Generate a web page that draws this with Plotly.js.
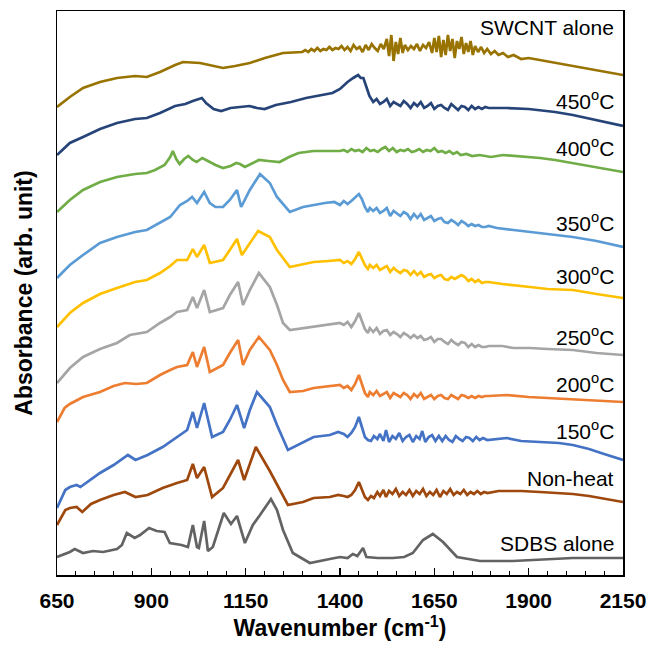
<!DOCTYPE html>
<html><head><meta charset="utf-8">
<script src="https://cdn.plot.ly/plotly-3.0.1.min.js"></script>
<style>html,body{margin:0;padding:0;background:#fff}#chart{width:651px;height:654px}</style>
</head><body><div id="chart"></div>
<script>
// [wavenumber (cm-1), absorbance (arb. unit, stacked offset)]
const swcntAlone = [[650,468],[684,478],[719,487],[764,493],[809,497],[857,499],[888,498],[923,503],[963,510],[984,513],[1029,512],[1061,509],[1090,507],[1122,509],[1161,512],[1201,517],[1249,522],[1300,523],[1308,525],[1316,523],[1324,526],[1332,524],[1340,527],[1348,524],[1356,526],[1364,525],[1372,528],[1380,525],[1388,527],[1396,526],[1404,529],[1412,525],[1420,528],[1428,524],[1436,530],[1444,526],[1452,528],[1460,523],[1468,530],[1476,525],[1484,531],[1492,527],[1500,524],[1508,531],[1516,526],[1524,536],[1530,519],[1536,540],[1542,514],[1548,533],[1554,521],[1560,537],[1566,522],[1572,530],[1580,525],[1588,529],[1596,526],[1604,531],[1612,524],[1620,530],[1628,527],[1636,533],[1644,522],[1650,537],[1656,523],[1662,539],[1668,518],[1674,535],[1680,520],[1686,540],[1692,524],[1698,536],[1704,517],[1710,534],[1716,526],[1722,538],[1728,521],[1734,532],[1740,523],[1746,534],[1752,520],[1758,529],[1766,523],[1774,528],[1782,522],[1790,526],[1800,521],[1810,524],[1820,520],[1832,522],[1845,518],[1860,520],[1880,516],[1900,517],[1930,515],[1970,512],[2017,509],[2080,505],[2150,500]];

const heat450 = [[650,420],[684,432],[719,438],[764,446],[809,452],[857,456],[888,457],[923,462],[963,469],[990,471],[1010,474],[1034,477],[1045,472],[1065,466],[1085,464],[1110,467],[1135,468],[1160,469],[1180,467],[1200,466],[1230,470],[1270,473],[1310,477],[1350,480],[1380,482],[1400,486],[1420,493],[1435,497],[1448,500],[1455,497],[1462,497],[1470,488],[1478,479],[1488,473],[1497,476],[1506,471],[1515,473],[1524,476],[1533,469],[1542,473],[1551,471],[1560,469],[1569,474],[1578,471],[1587,467],[1596,472],[1605,469],[1614,473],[1623,467],[1632,469],[1641,472],[1650,466],[1659,469],[1668,470],[1677,467],[1686,465],[1695,471],[1704,468],[1713,465],[1722,469],[1731,468],[1740,465],[1749,469],[1758,466],[1767,468],[1776,466],[1785,468],[1794,467],[1842,467],[1900,466],[1930,465],[1970,463],[2017,460],[2080,455],[2150,449]];

const heat400 = [[650,363],[684,375],[719,385],[764,393],[809,398],[857,401],[888,402],[910,405],[935,410],[950,418],[957,424],[966,416],[975,411],[987,416],[998,419],[1010,415],[1020,413],[1035,417],[1050,414],[1070,410],[1090,407],[1110,409],[1125,412],[1135,411],[1148,408],[1165,411],[1185,415],[1210,414],[1240,413],[1265,418],[1290,422],[1330,424],[1370,424],[1400,424],[1410,425],[1420,423],[1430,426],[1440,424],[1450,425],[1460,423],[1470,427],[1480,424],[1490,425],[1500,423],[1510,426],[1520,428],[1530,424],[1540,427],[1550,423],[1560,425],[1570,424],[1580,426],[1590,423],[1600,424],[1610,426],[1620,423],[1630,425],[1640,424],[1650,427],[1660,423],[1670,424],[1680,422],[1690,424],[1700,421],[1710,423],[1720,420],[1735,421],[1750,419],[1770,420],[1800,418],[1832,420],[1904,418],[1930,417],[1970,415],[2017,412],[2080,408],[2150,403]];

const heat350 = [[650,297],[684,310],[719,320],[764,332],[809,338],[857,343],[888,345],[923,352],[950,358],[976,370],[995,374],[1008,378],[1021,372],[1040,383],[1055,372],[1070,368],[1090,368],[1108,375],[1127,385],[1138,368],[1161,385],[1188,401],[1214,392],[1233,378],[1267,363],[1302,368],[1330,370],[1360,372],[1385,373],[1400,370],[1410,374],[1420,371],[1430,374],[1440,378],[1450,381],[1458,376],[1466,368],[1474,363],[1479,367],[1488,364],[1497,367],[1506,362],[1515,364],[1524,367],[1533,359],[1542,364],[1551,361],[1560,359],[1569,363],[1578,361],[1587,356],[1596,361],[1605,357],[1614,361],[1623,355],[1632,357],[1641,359],[1650,354],[1659,356],[1668,357],[1677,353],[1686,352],[1695,355],[1704,353],[1713,350],[1722,354],[1731,352],[1740,349],[1749,351],[1758,349],[1767,350],[1776,348],[1785,348],[1794,349],[1816,347],[1860,345],[1904,343],[1960,341],[2017,338],[2080,334],[2150,328]];

const heat300 = [[650,248],[684,262],[719,272],[764,281],[809,287],[857,293],[888,295],[923,302],[950,309],[968,315],[995,315],[1010,326],[1021,318],[1040,330],[1055,312],[1070,313],[1090,315],[1108,325],[1127,336],[1140,320],[1161,332],[1183,344],[1214,338],[1233,325],[1267,308],[1302,311],[1330,313],[1370,314],[1400,315],[1410,312],[1420,314],[1430,311],[1440,316],[1450,323],[1458,317],[1466,310],[1474,306],[1479,310],[1488,307],[1497,310],[1506,305],[1515,307],[1524,309],[1533,303],[1542,307],[1551,304],[1560,302],[1569,305],[1578,304],[1587,300],[1596,304],[1605,300],[1614,303],[1623,298],[1632,300],[1641,301],[1650,297],[1659,299],[1668,300],[1677,296],[1686,295],[1695,298],[1704,296],[1713,298],[1722,300],[1731,298],[1740,294],[1749,296],[1758,293],[1767,295],[1776,292],[1785,293],[1794,293],[1830,291],[1860,290],[1904,288],[1950,286],[2017,285],[2080,281],[2150,277]];

const heat250 = [[650,192],[684,207],[719,218],[764,226],[809,232],[843,240],[888,243],[923,252],[950,258],[968,263],[995,265],[1010,278],[1021,267],[1040,285],[1055,263],[1070,265],[1090,267],[1108,280],[1130,293],[1143,270],[1161,285],[1185,302],[1214,288],[1233,270],[1249,252],[1267,245],[1302,247],[1330,248],[1370,251],[1400,252],[1410,250],[1420,253],[1430,248],[1440,254],[1450,262],[1458,254],[1466,246],[1474,242],[1479,247],[1488,243],[1497,247],[1506,241],[1515,244],[1524,245],[1533,240],[1542,243],[1551,241],[1560,238],[1569,242],[1578,240],[1587,237],[1596,240],[1605,237],[1614,239],[1623,235],[1632,236],[1641,238],[1650,233],[1659,236],[1668,236],[1677,233],[1686,231],[1695,235],[1704,232],[1713,230],[1722,233],[1731,232],[1740,228],[1749,231],[1758,228],[1767,230],[1776,228],[1785,228],[1794,229],[1830,229],[1860,227],[1904,227],[1950,226],[2017,225],[2080,222],[2150,220]];

const heat200 = [[650,153],[670,167],[684,171],[700,174],[719,178],[764,183],[800,189],[830,192],[860,191],[888,192],[923,200],[950,205],[968,208],[995,210],[1010,223],[1021,208],[1040,228],[1055,203],[1070,206],[1090,210],[1108,222],[1130,235],[1143,210],[1161,225],[1185,238],[1214,225],[1233,210],[1249,195],[1267,183],[1302,184],[1330,187],[1370,189],[1400,190],[1410,187],[1420,189],[1430,185],[1440,191],[1450,200],[1458,192],[1466,182],[1474,178],[1479,183],[1488,180],[1497,184],[1506,179],[1515,181],[1524,183],[1533,177],[1542,182],[1551,180],[1560,178],[1569,182],[1578,180],[1587,176],[1596,181],[1605,178],[1614,182],[1623,176],[1632,178],[1641,180],[1650,176],[1659,179],[1668,180],[1677,177],[1686,176],[1695,180],[1704,178],[1713,176],[1722,180],[1731,179],[1740,177],[1749,179],[1758,177],[1767,179],[1776,178],[1785,179],[1794,179],[1842,180],[1900,178],[1950,177],[2017,175],[2080,174],[2150,173]];

const heat150 = [[650,67],[672,85],[684,88],[702,90],[712,88],[740,96],[764,102],[800,110],[830,118],[838,120],[858,115],[890,120],[930,128],[968,138],[995,145],[1010,163],[1021,147],[1040,172],[1061,138],[1090,143],[1108,155],[1127,170],[1146,147],[1161,165],[1180,183],[1214,168],[1233,150],[1262,125],[1302,133],[1330,138],[1373,140],[1395,143],[1410,141],[1420,138],[1430,142],[1440,148],[1450,158],[1458,148],[1466,138],[1474,135],[1482,134],[1490,139],[1499,136],[1506,141],[1515,134],[1522,145],[1530,133],[1539,139],[1548,136],[1557,142],[1566,134],[1575,138],[1584,140],[1593,133],[1602,139],[1611,136],[1618,144],[1626,133],[1635,138],[1644,140],[1653,134],[1662,139],[1671,134],[1680,139],[1689,135],[1698,133],[1707,139],[1716,136],[1725,134],[1734,138],[1743,137],[1752,134],[1761,138],[1770,135],[1779,137],[1790,135],[1810,136],[1842,137],[1880,134],[1930,133],[1980,132],[2017,130],[2060,126],[2100,121],[2150,115]];

const nonHeat = [[650,50],[672,65],[684,67],[702,68],[717,63],[740,71],[764,75],[800,80],[830,83],[858,78],[890,80],[930,87],[968,92],[995,95],[1010,111],[1021,97],[1040,108],[1061,78],[1090,87],[1108,100],[1130,115],[1146,95],[1161,112],[1177,128],[1214,104],[1233,90],[1262,70],[1302,73],[1330,77],[1373,78],[1395,80],[1410,79],[1420,78],[1430,80],[1440,85],[1450,93],[1458,86],[1466,78],[1474,75],[1482,79],[1490,77],[1499,83],[1506,79],[1515,85],[1522,78],[1530,84],[1539,81],[1548,86],[1557,79],[1566,83],[1575,80],[1584,85],[1593,79],[1602,84],[1611,81],[1620,86],[1629,79],[1638,83],[1647,80],[1656,85],[1665,78],[1674,84],[1683,81],[1692,86],[1701,80],[1710,83],[1719,81],[1728,85],[1737,80],[1746,83],[1755,81],[1764,84],[1773,81],[1782,83],[1791,82],[1805,83],[1820,84],[1842,84],[1880,84],[1930,83],[1980,82],[2017,81],[2060,79],[2100,76],[2150,73]];

const sdbsAlone = [[650,18],[684,23],[697,26],[719,22],[745,24],[772,23],[809,26],[822,30],[835,42],[856,37],[870,40],[894,47],[914,44],[935,43],[949,32],[980,30],[997,28],[1010,50],[1021,28],[1026,27],[1040,54],[1050,24],[1063,28],[1092,62],[1111,51],[1127,59],[1148,32],[1169,50],[1188,60],[1217,76],[1233,65],[1249,45],[1275,22],[1320,12],[1373,16],[1400,18],[1420,17],[1434,21],[1446,19],[1461,27],[1470,18],[1500,17],[1540,17],[1570,18],[1593,22],[1620,35],[1646,41],[1673,33],[1710,18],[1771,14],[1858,14],[1950,16],[2017,17],[2150,17]];

const seriesNames = ["SWCNT alone","450ºC","400ºC","350ºC","300ºC","250ºC","200ºC","150ºC","Non-heat","SDBS alone"];
const labelTexts = ["SWCNT alone","450<sup>o</sup>C","400<sup>o</sup>C","350<sup>o</sup>C","300<sup>o</sup>C","250<sup>o</sup>C","200<sup>o</sup>C","150<sup>o</sup>C","Non-heat","SDBS alone"];
const seriesData = [swcntAlone, heat450, heat400, heat350, heat300, heat250, heat200, heat150, nonHeat, sdbsAlone];
const tickVals = [650, 900, 1150, 1400, 1650, 1900, 2150];

const colors = ["#997300","#264478","#70AD47","#5B9BD5","#FFC000","#A5A5A5","#ED7D31","#4472C4","#9E480E","#636363"];
const labelY = [548, 475, 428, 353, 300, 239, 192, 145, 97, 32];

const traces = seriesData.map((d, i) => ({
  type: 'scatter', mode: 'lines', name: seriesNames[i],
  x: d.map(p => p[0]), y: d.map(p => p[1]),
  line: {color: colors[i], width: 2.7, shape: 'linear'},
  hoverinfo: 'x+name'
}));

const annotations = labelTexts.map((t, i) => ({
  text: t, x: 2132, y: labelY[i], xref: 'x', yref: 'y',
  xanchor: 'right', yanchor: 'middle', showarrow: false,
  font: {family: 'Liberation Sans, Arial, sans-serif', size: 21, color: '#000'}
}));

const layout = {
  width: 651, height: 654,
  margin: {l: 57, r: 28, t: 11, b: 79},
  paper_bgcolor: '#fff', plot_bgcolor: '#fff',
  showlegend: false,
  font: {family: 'Liberation Sans, Arial, sans-serif', color: '#000'},
  xaxis: {
    range: [650, 2150], tickvals: tickVals, ticktext: tickVals.map(String),
    ticks: 'inside', ticklen: 7, tickwidth: 1.3, tickcolor: '#000',
    minor: {dtick: 50, tick0: 650, ticks: 'inside', ticklen: 4, tickwidth: 1, tickcolor: '#000'},
    showline: true, linecolor: '#000', linewidth: 1.5, mirror: true,
    showgrid: false, zeroline: false,
    tickfont: {size: 21, weight: 'bold', color: '#000'},
    ticklabelstandoff: 6,
    title: {text: 'Wavenumber (cm<sup>-1</sup>)', font: {size: 23, weight: 'bold', color: '#000'}, standoff: 8}
  },
  yaxis: {
    range: [0, 564], showticklabels: false, ticks: '',
    showline: true, linecolor: '#000', linewidth: 1.5, mirror: true,
    showgrid: false, zeroline: false,
    title: {text: 'Absorbance (arb. unit)', font: {size: 23, weight: 'bold', color: '#000'}, standoff: 16}
  },
  annotations: annotations
};

Plotly.newPlot('chart', traces, layout, {displayModeBar: false, staticPlot: true});
</script></body></html>
